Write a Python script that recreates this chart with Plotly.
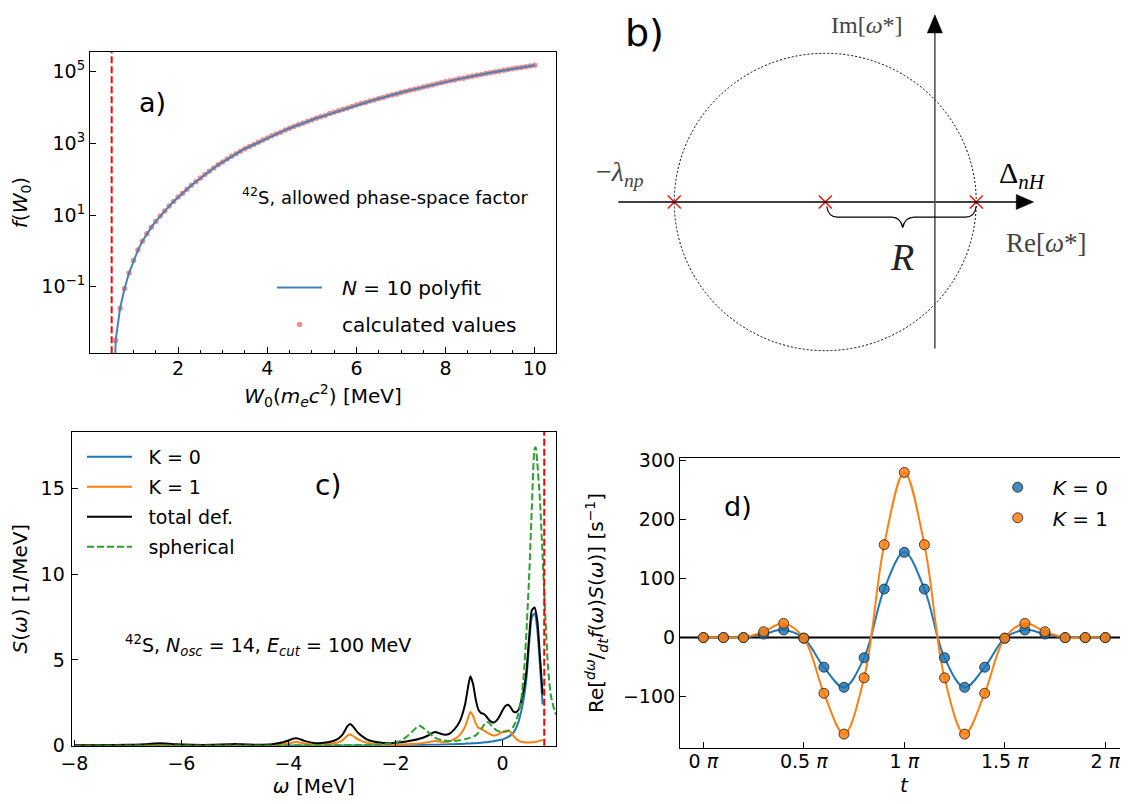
import plotly.graph_objects as go

# The page body has an 8 px margin, so the figure is drawn 8 px smaller and
# all reference pixel positions are shifted by that offset.
PAGE_W, PAGE_H, BODY_OFF = 1128, 804, 8
FIG_W, FIG_H = PAGE_W - BODY_OFF, PAGE_H - BODY_OFF

# ---------------- Panel a: phase-space factor ----------------
w0_calc = [0.6, 0.7, 0.8, 0.9, 1.0, 1.1, 1.2, 1.3, 1.4, 1.5, 1.6, 1.7, 1.8, 1.9,
           2.0, 2.1, 2.2, 2.3, 2.4, 2.5, 2.6, 2.7, 2.8, 2.9, 3.0, 3.1, 3.2, 3.3,
           3.4, 3.5, 3.6, 3.7, 3.8, 3.9, 4.0, 4.1, 4.2, 4.3, 4.4, 4.5, 4.6, 4.7,
           4.8, 4.9, 5.0, 5.1, 5.2, 5.3, 5.4, 5.5, 5.6, 5.7, 5.8, 5.9, 6.0, 6.1,
           6.2, 6.3, 6.4, 6.5, 6.6, 6.7, 6.8, 6.9, 7.0, 7.1, 7.2, 7.3, 7.4, 7.5,
           7.6, 7.7, 7.8, 7.9, 8.0, 8.1, 8.2, 8.3, 8.4, 8.5, 8.6, 8.7, 8.8, 8.9,
           9.0, 9.1, 9.2, 9.3, 9.4, 9.5, 9.6, 9.7, 9.8, 9.9, 10.0]
log10_f_calc = [-2.50, -1.60, -1.05, -0.62, -0.27, 0.02, 0.27, 0.48, 0.66, 0.82,
                0.97, 1.11, 1.25, 1.38, 1.50, 1.61, 1.72, 1.83, 1.93, 2.03,
                2.13, 2.22, 2.31, 2.40, 2.48, 2.56, 2.64, 2.71, 2.78, 2.85,
                2.91, 2.97, 3.03, 3.09, 3.15, 3.21, 3.26, 3.31, 3.37, 3.42,
                3.47, 3.52, 3.56, 3.61, 3.65, 3.70, 3.74, 3.78, 3.83, 3.87,
                3.91, 3.95, 3.99, 4.03, 4.07, 4.11, 4.14, 4.18, 4.21, 4.25,
                4.28, 4.32, 4.35, 4.38, 4.42, 4.45, 4.48, 4.51, 4.54, 4.57,
                4.60, 4.63, 4.66, 4.69, 4.72, 4.75, 4.77, 4.80, 4.82, 4.85,
                4.87, 4.90, 4.92, 4.95, 4.97, 4.99, 5.01, 5.04, 5.06, 5.08,
                5.10, 5.12, 5.14, 5.16, 5.18]
w0_fit_extra = [0.585]
log10_f_fit_extra = [-3.3]
w0_threshold = 0.511

f_calc = [10 ** v for v in log10_f_calc]
w0_fit = w0_fit_extra + w0_calc
f_fit = [10 ** v for v in (log10_f_fit_extra + log10_f_calc)]

# ---------------- Panel c: strength functions ----------------
omega_def = [-8.0, -7.5, -7.0, -6.7, -6.5, -6.4, -6.3, -6.1, -5.8, -5.4,
             -5.1, -5.0, -4.9, -4.6, -4.3, -4.1, -4.0, -3.9, -3.85, -3.8,
             -3.7, -3.5, -3.3, -3.1, -3.0, -2.95, -2.9, -2.85, -2.8, -2.75,
             -2.7, -2.6, -2.5, -2.3, -2.1, -1.9, -1.7, -1.5, -1.4, -1.3,
             -1.25, -1.2, -1.1, -1.0, -0.9, -0.8, -0.7, -0.65, -0.6, -0.55,
             -0.5, -0.45, -0.4, -0.35, -0.3, -0.25, -0.2, -0.15, -0.1, -0.05,
             0.0, 0.05, 0.1, 0.15, 0.2, 0.25, 0.3, 0.35, 0.4, 0.45,
             0.5, 0.55, 0.6, 0.65, 0.7, 0.75]
s_k0 = [0.00, 0.00, 0.00, 0.00, 0.01, 0.01, 0.01, 0.01, 0.01, 0.01,
        0.01, 0.01, 0.01, 0.01, 0.01, 0.01, 0.01, 0.01, 0.01, 0.01,
        0.01, 0.01, 0.01, 0.01, 0.01, 0.01, 0.01, 0.01, 0.01, 0.01,
        0.01, 0.01, 0.02, 0.02, 0.02, 0.03, 0.03, 0.04, 0.05, 0.05,
        0.06, 0.06, 0.07, 0.08, 0.09, 0.10, 0.12, 0.13, 0.13, 0.14,
        0.15, 0.16, 0.17, 0.19, 0.20, 0.22, 0.24, 0.27, 0.30, 0.33,
        0.37, 0.43, 0.50, 0.60, 0.75, 1.00, 1.40, 2.00, 2.80, 4.00,
        6.00, 7.50, 7.70, 6.80, 4.70, 2.40]
s_k1 = [0.01, 0.01, 0.02, 0.04, 0.05, 0.06, 0.05, 0.03, 0.02, 0.02,
        0.03, 0.04, 0.03, 0.02, 0.04, 0.09, 0.14, 0.20, 0.21, 0.19,
        0.13, 0.07, 0.08, 0.17, 0.30, 0.43, 0.58, 0.65, 0.58, 0.47,
        0.37, 0.24, 0.15, 0.08, 0.06, 0.07, 0.10, 0.15, 0.20, 0.26,
        0.27, 0.25, 0.22, 0.25, 0.38, 0.62, 1.10, 1.55, 1.97, 1.75,
        1.30, 1.05, 0.98, 0.90, 0.80, 0.70, 0.62, 0.60, 0.63, 0.72,
        0.80, 0.86, 0.88, 0.80, 0.60, 0.42, 0.30, 0.23, 0.20, 0.19,
        0.19, 0.20, 0.22, 0.25, 0.29, 0.33]
s_total = [0.02, 0.03, 0.05, 0.08, 0.13, 0.15, 0.13, 0.08, 0.05, 0.05,
           0.08, 0.10, 0.08, 0.06, 0.09, 0.20, 0.30, 0.42, 0.43, 0.40,
           0.28, 0.15, 0.18, 0.35, 0.60, 0.85, 1.12, 1.26, 1.15, 0.95,
           0.75, 0.50, 0.32, 0.18, 0.15, 0.20, 0.30, 0.45, 0.58, 0.76,
           0.80, 0.75, 0.65, 0.68, 0.95, 1.40, 2.40, 3.30, 4.05, 3.60,
           2.70, 2.10, 1.90, 1.85, 1.70, 1.50, 1.38, 1.36, 1.50, 1.75,
           2.05, 2.30, 2.38, 2.25, 2.00, 1.95, 2.10, 2.60, 3.30, 4.40,
           6.40, 7.90, 8.05, 7.30, 5.20, 3.00]
omega_sph = [-8.0, -6.5, -5.0, -4.0, -3.0, -2.5, -2.2, -2.0, -1.9, -1.8,
             -1.7, -1.6, -1.55, -1.5, -1.4, -1.3, -1.2, -1.1, -1.0, -0.9,
             -0.8, -0.7, -0.6, -0.5, -0.45, -0.4, -0.35, -0.3, -0.25, -0.2,
             -0.1, 0.0, 0.1, 0.2, 0.25, 0.3, 0.35, 0.4, 0.45, 0.5,
             0.55, 0.6, 0.62, 0.65, 0.7, 0.75, 0.8, 0.85, 0.9, 0.95, 1.0]
s_sph = [0.00, 0.01, 0.01, 0.02, 0.03, 0.05, 0.10, 0.18, 0.30, 0.50,
         0.78, 1.08, 1.15, 1.08, 0.82, 0.55, 0.38, 0.30, 0.27, 0.28,
         0.32, 0.38, 0.47, 0.60, 0.75, 0.95, 1.20, 1.38, 1.35, 1.15,
         0.88, 0.80, 0.85, 1.10, 1.40, 1.90, 2.70, 4.20, 6.80, 10.0,
         14.0, 17.3, 17.4, 16.5, 14.3, 11.0, 7.6, 4.6, 3.0, 2.3, 1.8]
omega_cut = 0.78

# ---------------- Panel d: integrand along contour ----------------
t_over_pi = [0.0, 0.1, 0.2, 0.3, 0.4, 0.5, 0.6, 0.7, 0.8, 0.9, 1.0,
             1.1, 1.2, 1.3, 1.4, 1.5, 1.6, 1.7, 1.8, 1.9, 2.0]
re_k0 = [0, 0, 0, 6, 13, -1, -50, -84, -34, 82, 144,
         82, -34, -84, -50, -1, 13, 6, 0, 0, 0]
re_k1 = [0, 0, 0, 10, 24, -1, -94, -163, -68, 157, 279,
         157, -68, -163, -94, -1, 24, 10, 0, 0, 0]
tick_t = [0, 0.5, 1, 1.5, 2]
tick_t_text = ["0 <i>π</i>", "0.5 <i>π</i>", "1 <i>π</i>", "1.5 <i>π</i>", "2 <i>π</i>"]

# ---------------- Panel b: contour sketch geometry (units of R) ----------------
pole_re = [-1.0, 0.0, 1.0]
pole_im = [0.0, 0.0, 0.0]
im_axis_re = 0.726

C_BLUE, C_ORANGE, C_GREEN = "#1f77b4", "#ff7f0e", "#2ca02c"
FONT = "DejaVu Sans"
SERIF = "Liberation Serif"
GAP_A = "\u2002\u2005"
GAP_C = "\u2002\u200a"
GAP_D = "\u2002"


def px_x(px):
    return (px - BODY_OFF) / FIG_W


def px_y(py):
    return 1 - (py - BODY_OFF) / FIG_H


fig = go.Figure()

# ---- panel a traces
fig.add_trace(go.Scatter(x=w0_calc, y=f_calc, mode="markers", name=GAP_A + "calculated values",
                         marker=dict(color="#f08080", size=5.5, opacity=0.9),
                         xaxis="x", yaxis="y", legend="legend", legendrank=2, legendgroup="a2"))
fig.add_trace(go.Scatter(x=w0_fit, y=f_fit, mode="lines", name=GAP_A + "<i>N</i> = 10 polyfit",
                         line=dict(color="#4682b4", width=2),
                         xaxis="x", yaxis="y", legend="legend", legendrank=1, legendgroup="a1"))

# ---- panel b (sketch)
fig.add_trace(go.Scatter(x=pole_re, y=pole_im, mode="markers", showlegend=False,
                         marker=dict(symbol="x-thin", size=13, line=dict(color="red", width=1.3)),
                         xaxis="x2", yaxis="y2"))

# ---- panel c traces
fig.add_trace(go.Scatter(x=omega_def, y=s_k0, mode="lines", name=GAP_C + "K = 0",
                         line=dict(color=C_BLUE, width=2, shape="spline", smoothing=0.6),
                         xaxis="x3", yaxis="y3", legend="legend2", legendgroup="c1"))
fig.add_trace(go.Scatter(x=omega_def, y=s_k1, mode="lines", name=GAP_C + "K = 1",
                         line=dict(color=C_ORANGE, width=2, shape="spline", smoothing=0.6),
                         xaxis="x3", yaxis="y3", legend="legend2", legendgroup="c2"))
fig.add_trace(go.Scatter(x=omega_def, y=s_total, mode="lines", name=GAP_C + "total def.",
                         line=dict(color="black", width=2, shape="spline", smoothing=0.6),
                         xaxis="x3", yaxis="y3", legend="legend2", legendgroup="c3"))
fig.add_trace(go.Scatter(x=omega_sph, y=s_sph, mode="lines", name=GAP_C + "spherical",
                         line=dict(color=C_GREEN, width=2, dash="7px,3px", shape="spline", smoothing=0.6),
                         xaxis="x3", yaxis="y3", legend="legend2", legendgroup="c4"))

# ---- panel d traces
fig.add_trace(go.Scatter(x=t_over_pi, y=re_k0, mode="lines", showlegend=False,
                         line=dict(color=C_BLUE, width=2, shape="spline", smoothing=1.0),
                         xaxis="x4", yaxis="y4"))
fig.add_trace(go.Scatter(x=t_over_pi, y=re_k1, mode="lines", showlegend=False,
                         line=dict(color=C_ORANGE, width=2, shape="spline", smoothing=1.0),
                         xaxis="x4", yaxis="y4"))
fig.add_trace(go.Scatter(x=t_over_pi, y=re_k0, mode="markers", name=GAP_D + "<i>K</i> = 0",
                         marker=dict(color="rgba(31,119,180,0.85)", size=10,
                                     line=dict(color="rgba(30,30,30,0.8)", width=1)),
                         xaxis="x4", yaxis="y4", legend="legend3", legendgroup="d1"))
fig.add_trace(go.Scatter(x=t_over_pi, y=re_k1, mode="markers", name=GAP_D + "<i>K</i> = 1",
                         marker=dict(color="rgba(255,127,14,0.85)", size=10,
                                     line=dict(color="rgba(30,30,30,0.8)", width=1)),
                         xaxis="x4", yaxis="y4", legend="legend3", legendgroup="d2"))

axis_common = dict(showline=True, linecolor="black", linewidth=1.2, ticks="inside",
                   ticklen=6, tickwidth=1.2, tickcolor="black", showgrid=False,
                   zeroline=False, automargin=False,
                   tickfont=dict(family=FONT, size=19, color="black"))
title_font = dict(family=FONT, size=20, color="black")

fig.update_layout(
    width=FIG_W, height=FIG_H,
    margin=dict(l=0, r=0, t=0, b=0),
    paper_bgcolor="white", plot_bgcolor="white",
    font=dict(family=FONT, size=19, color="black"),
    # panel a
    xaxis=dict(axis_common, domain=[px_x(90), px_x(556)], range=[0.025, 10.475],
               tick0=0, dtick=2, mirror=True, anchor="y", ticklabelstandoff=-2,
               minor=dict(ticks="inside", ticklen=3, dtick=0.5, tick0=0, tickcolor="black"),
               title=dict(text="<i>W</i><sub>0</sub>(<i>m<sub>e</sub>c</i><sup>2</sup>) [MeV]",
                          font=title_font, standoff=10)),
    yaxis=dict(axis_common, domain=[px_y(353.3), px_y(51.7)], type="log",
               range=[-2.86, 5.558], mirror=True, anchor="x",
               tickvals=[0.1, 10, 1000, 100000],
               ticktext=["10<sup>−1</sup>", "10<sup>1</sup>", "10<sup>3</sup>", "10<sup>5</sup>"],
               title=dict(text="<i>f</i>(<i>W</i><sub>0</sub>)", font=title_font, standoff=10)),
    # panel b (sketch, hidden axes, units of R)
    xaxis2=dict(domain=[px_x(564), 1.0], range=[-1.73, 2.005], visible=False, anchor="y2"),
    yaxis2=dict(domain=[px_y(370), 1.0], range=[-1.113, 1.285], visible=False, anchor="x2"),
    # panel c
    xaxis3=dict(axis_common, domain=[px_x(71.7), px_x(556)], range=[-8.05, 1.0],
                tick0=0, dtick=2, mirror=True, anchor="y3", ticklabelstandoff=0,
                title=dict(text="<i>ω</i> [MeV]", font=title_font, standoff=5)),
    yaxis3=dict(axis_common, domain=[px_y(745.7), px_y(431.7)], range=[0, 18.3],
                tick0=0, dtick=5, mirror=True, anchor="x3", ticklabelstandoff=2,
                title=dict(text="<i>S</i>(<i>ω</i>) [1/MeV]", font=title_font, standoff=8)),
    # panel d
    xaxis4=dict(axis_common, domain=[px_x(680), 1.0], range=[-0.116, 2.113],
                tickvals=tick_t, ticktext=tick_t_text, mirror=True, anchor="y4",
                ticklabelstandoff=-4,
                title=dict(text="<i>t</i>", font=title_font, standoff=6)),
    yaxis4=dict(axis_common, domain=[px_y(748.3), px_y(457.7)], range=[-187, 303.9],
                tickvals=[-100, 0, 100, 200, 300], mirror=False, anchor="x4",
                title=dict(text="Re[<sup><i>dω</i></sup>/<sub><i>dt</i></sub><i>f</i>(<i>ω</i>)<i>S</i>(<i>ω</i>)] [s<sup>−1</sup>]",
                           font=title_font, standoff=13)),
    legend=dict(x=px_x(272), y=px_y(268), xanchor="left", yanchor="top",
                bgcolor="rgba(0,0,0,0)", font=dict(family=FONT, size=20),
                tracegroupgap=8, itemwidth=45),
    legend2=dict(x=px_x(82), y=px_y(438), xanchor="left", yanchor="top",
                 bgcolor="rgba(0,0,0,0)", font=dict(family=FONT, size=19),
                 tracegroupgap=2.3, itemwidth=45),
    legend3=dict(x=px_x(992.7), y=px_y(467.7), xanchor="left", yanchor="top",
                 bgcolor="rgba(0,0,0,0)", font=dict(family=FONT, size=20),
                 tracegroupgap=1.6, itemwidth=40),
    showlegend=True,
)

# threshold / cut lines
fig.add_shape(type="line", xref="x", yref="y domain", x0=w0_threshold, x1=w0_threshold,
              y0=0, y1=1, line=dict(color="red", width=2, dash="7px,3px"))
fig.add_shape(type="line", xref="x3", yref="y3 domain", x0=omega_cut, x1=omega_cut,
              y0=0, y1=1, line=dict(color="red", width=2, dash="7px,3px"))
# zero line in d
fig.add_shape(type="line", xref="x4 domain", yref="y4", x0=0, x1=1, y0=0, y1=0,
              line=dict(color="black", width=2), layer="below")

# ---- panel b sketch shapes
fig.add_shape(type="circle", xref="x2", yref="y2", x0=-1, x1=1, y0=-0.985, y1=0.985,
              line=dict(color="black", width=1, dash="2px,2px"))
fig.add_shape(type="line", xref="x2", yref="y2", x0=-1.37, x1=1.30, y0=0, y1=0,
              line=dict(color="black", width=1.3))
fig.add_shape(type="path", xref="x2", yref="y2",
              path="M 1.38 0 L 1.265 0.05 L 1.265 -0.05 Z",
              fillcolor="black", line=dict(color="black", width=0.5))
fig.add_shape(type="line", xref="x2", yref="y2", x0=im_axis_re, x1=im_axis_re, y0=-0.97, y1=1.15,
              line=dict(color="#555555", width=1.6))
fig.add_shape(type="path", xref="x2", yref="y2",
              path=f"M {im_axis_re} 1.24 L {im_axis_re - 0.05} 1.12 L {im_axis_re + 0.05} 1.12 Z",
              fillcolor="black", line=dict(color="black", width=0.5))
fig.add_shape(type="path", xref="x2", yref="y2",
              path="M 0.01 -0.03 Q 0.02 -0.10 0.08 -0.10 L 0.44 -0.10 Q 0.50 -0.10 0.513 -0.17 "
                   "Q 0.526 -0.10 0.59 -0.10 L 0.93 -0.10 Q 0.99 -0.10 1.0 -0.03",
              line=dict(color="black", width=1.2))

sketch_labels = [
    ("b)", -1.20, 1.12, 38, FONT, "black"),
    ("Im[<i>ω</i>*]", 0.275, 1.170, 24, SERIF, "#444444"),
    ("Re[<i>ω</i>*]", 1.466, -0.274, 27, SERIF, "#444444"),
    ("−<i>λ</i><sub><i>np</i></sub>", -1.36, 0.19, 28, SERIF, "#444444"),
    ("Δ<sub><i>nH</i></sub>", 1.306, 0.179, 30, SERIF, "black"),
    ("<i>R</i>", 0.506, -0.362, 38, SERIF, "#222222"),
]
for text, xx, yy, size, fam, col in sketch_labels:
    fig.add_annotation(text=text, x=xx, y=yy, xref="x2", yref="y2", showarrow=False,
                       xanchor="center", yanchor="middle",
                       font=dict(family=fam, size=size, color=col))

# ---- panel labels and notes
notes = [
    ("a)", 152, 103, 27),
    ("c)", 328, 485, 28),
    ("d)", 738, 506, 27),
    ("<sup>42</sup>S, allowed phase-space factor", 385, 196, 18),
    ("<sup>42</sup>S, <i>N<sub>osc</sub></i> = 14, <i>E<sub>cut</sub></i> = 100 MeV", 268, 645, 19),
]
for text, xp, yp, size in notes:
    fig.add_annotation(text=text, x=px_x(xp), y=px_y(yp), xref="paper", yref="paper",
                       showarrow=False, xanchor="center", yanchor="middle",
                       font=dict(family=FONT, size=size, color="black"))

fig.write_html("out.html")
